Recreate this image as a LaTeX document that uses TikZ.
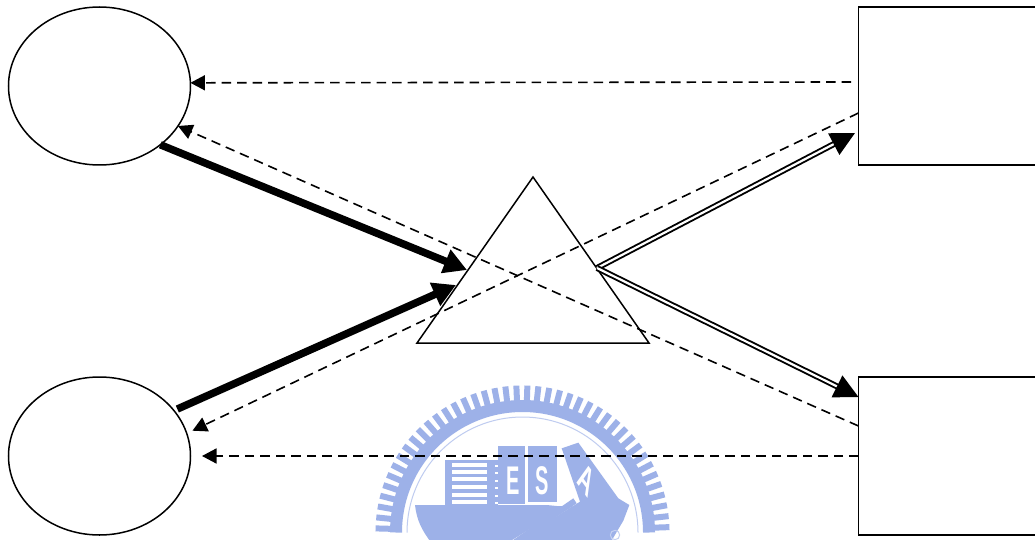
\documentclass[tikz,border=0pt]{standalone}
\usepackage{fontspec}
\setmainfont{Liberation Sans}
\usetikzlibrary{arrows.meta,shapes.geometric}
\definecolor{wm}{HTML}{9DB1E8}
\tikzset{
  shape line/.style={draw=black,line width=1.5pt,inner sep=0pt,outer sep=0pt},
  oval/.style={shape line,ellipse,minimum width=182pt,minimum height=158pt},
  box/.style={shape line,rectangle,anchor=north west,minimum width=190pt,minimum height=158pt},
  prism/.style={shape line,isosceles triangle,isosceles triangle apex angle=69.9,shape border rotate=90,
     isosceles triangle stretches=true,minimum width=232pt,minimum height=166pt,anchor=apex},
  dashline/.style={draw=black,line width=1.6pt,dash pattern=on 9.5pt off 6pt,
     -{Triangle[length=14.5pt,width=15pt]}},
  heavy/.style={draw=black,line width=7.5pt,-{Triangle[length=23pt,width=24pt]},shorten <=0pt},
  twin/.style={draw=black,double=white,double distance=2.2pt,line width=1.9pt,-{Triangle[length=24pt,width=24pt]}},
  wmletter/.style={text=white,font=\bfseries\fontsize{40pt}{40pt}\selectfont,inner sep=0pt,xscale=0.5}
}
\begin{document}
\begin{tikzpicture}[x=1pt,y=-1pt]
\useasboundingbox (0,0) rectangle (1035,540);
\clip (0,0) rectangle (1035,540);
\fill[white] (0,0) rectangle (1035,540);
% watermark
\begin{scope}
  \foreach \a in {2.1,6.4,...,180} {
    \draw[wm,line width=6pt] ({522.5+130*cos(\a)},{532.5-130*sin(\a)}) -- ({522.5+147*cos(\a)},{532.5-147*sin(\a)});
  }
  \draw[wm,line width=12pt] (522.5,532.5) ++(0:126.5) arc[start angle=0,end angle=-180,radius=126.5];
  \draw[wm!65,line width=1pt] (522.5,532.5) ++(0:115.5) arc[start angle=0,end angle=-180,radius=115.5];
\end{scope}
\begin{scope}[shift={(360,370)},x=0.33333pt,y=-0.33333pt]
  % left stack
  \fill[wm] (255,270) rectangle (415,405);
  \foreach \yy in {280,300,322,345,368,390} \fill[white] (277,\yy) rectangle (380,{\yy+12});
  \foreach \yy in {285,307,330,352,374,396} \fill[white] (405,\yy) rectangle (414,{\yy+6});
  % blocks
  \fill[wm] (415,228) rectangle (495,402);
  \fill[wm] (503,228) rectangle (590,396);
  % book
  \fill[wm] (605,235) -- (655,218) -- (775,385) -- (808,405) -- (790,452) -- (750,520) -- (460,520) -- (660,395) -- cycle;
  % hull
  \fill[wm] (165,405) -- (590,405) -- (560,408) -- (640,408) -- (440,520) -- (215,520) .. controls (185,480) and (170,450) .. (165,405) -- cycle;
  \draw[white,line width=2pt] (455,515) -- (655,390);
  \fill[wm] (640,385) -- (650,400) -- (470,520) -- (445,520) -- cycle;
  \draw[wm!60,line width=1pt] (765,495) circle[radius=14];
  \node[wmletter] (wmE) at (458,332) {E};
  \node[wmletter] (wmS) at (546,332) {S};
  \node[wmletter,rotate=-35] (wmA) at (680,330) {A};
\end{scope}
% shapes
\node[oval] (a) at (99.5,86) {};
\node[oval] (b) at (99.5,456) {};
\node[box] (r1) at (858.5,7) {};
\node[box] (r2) at (858.5,377) {};
\node[prism] (tri) at (533,177) {};
% dashed connectors
\draw[dashline] ([xshift=-7.5pt,yshift=4pt]r1.west) -- (a.2.5);
\draw[dashline] ([yshift=30pt]r2.west) -- (a.-27.3);
\draw[dashline] ([yshift=-27pt]r1.west) -- ([xshift=6pt,yshift=2pt]b.15.7);
\draw[dashline] (r2.west) -- ([xshift=11.5pt]b.east);
% heavy connectors
\draw[heavy] (a.-44.3) -- ([xshift=-66pt,yshift=-93pt]tri.apex);
\draw[heavy] ([xshift=3pt,yshift=2pt]b.31.8) -- ([xshift=-77pt,yshift=-108pt]tri.apex);
% double connectors
\draw[twin] ([xshift=64pt,yshift=-91pt]tri.apex) -- ([xshift=-3.5pt,yshift=-47pt]r1.west);
\draw[twin] ([xshift=64pt,yshift=-91pt]tri.apex) -- ([yshift=59pt]r2.west);
\end{tikzpicture}
\end{document}
